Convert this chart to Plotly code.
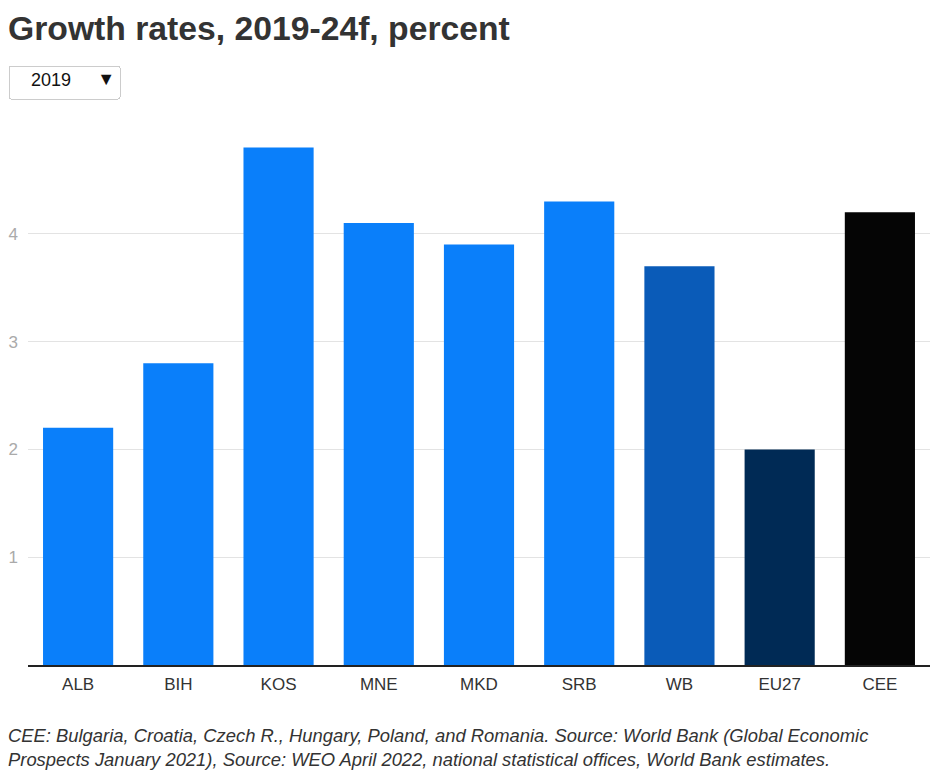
import plotly.graph_objects as go

categories = ["ALB", "BIH", "KOS", "MNE", "MKD", "SRB", "WB", "EU27", "CEE"]
values_2019 = [2.2, 2.8, 4.8, 4.1, 3.9, 4.3, 3.7, 2.0, 4.2]
bar_colors = ["#0a7ffa"] * 6 + ["#0a5bb8", "#002a55", "#050505"]
y_ticks = [1, 2, 3, 4]
years = ["2019"]

fig = go.Figure()
fig.add_trace(go.Bar(
    x=categories, y=values_2019,
    marker=dict(color=bar_colors, line=dict(width=0)),
    hovertemplate="%{x}: %{y}<extra></extra>",
))

NB = "\u00a0"
fig.update_layout(
    width=938, height=784,
    margin=dict(l=28, r=8, t=126, b=119),
    paper_bgcolor="white", plot_bgcolor="white",
    font=dict(family="Liberation Sans, Arial, sans-serif", color="#333"),
    bargap=0.3,
    showlegend=False,
    xaxis=dict(
        showline=True, linecolor="#222", linewidth=1.5,
        tickfont=dict(size=17, color="#333"),
        ticks="", showgrid=False, ticklabelstandoff=3,
        automargin=False,
    ),
    yaxis=dict(
        range=[0, 5], tickvals=y_ticks,
        showgrid=True, gridcolor="#e3e3e3", gridwidth=1,
        tickfont=dict(size=17, color="#aaaaaa"),
        zeroline=False, ticks="", ticklabelstandoff=9,
        automargin=False,
    ),
    updatemenus=[dict(
        type="dropdown",
        buttons=[dict(label=NB * 2 + y + NB * 4, method="restyle", args=[{}]) for y in years],
        x=-0.0222, xanchor="left",
        y=1.113, yanchor="top",
        bgcolor="white", bordercolor="#cccccc", borderwidth=1,
        font=dict(size=18, color="#111"),
        pad=dict(l=0, r=0, t=0, b=0),
        showactive=False,
    )],
    annotations=[
        dict(text="<b>Growth rates, 2019-24f, percent</b>",
             xref="paper", yref="paper", x=-0.0244, y=1.181,
             xanchor="left", yanchor="middle", showarrow=False,
             font=dict(size=33.7, color="#333")),
        dict(text="<i>CEE: Bulgaria, Croatia, Czech R., Hungary, Poland, and Romania. Source: World Bank (Global Economic<br>Prospects January 2021), Source: WEO April 2022, national statistical offices, World Bank estimates.</i>",
             xref="paper", yref="paper", x=-0.0244, y=-0.108,
             xanchor="left", yanchor="top", align="left", showarrow=False,
             font=dict(size=18.4, color="#333")),
    ],
)

fig.write_html("out.html")
